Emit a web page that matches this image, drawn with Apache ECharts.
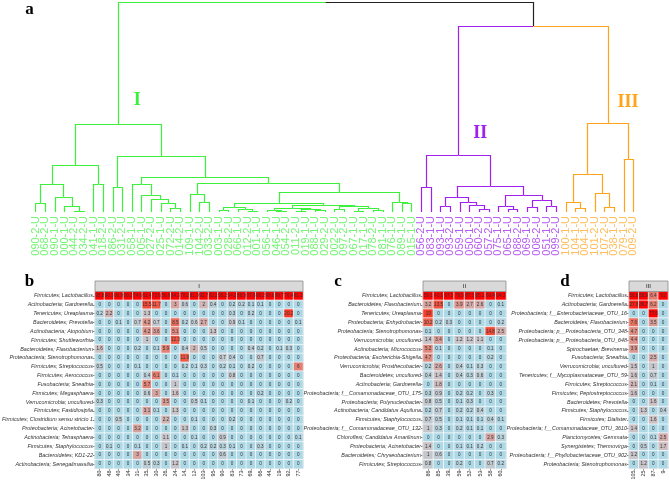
<!DOCTYPE html>
<html><head><meta charset="utf-8">
<script src="https://cdn.jsdelivr.net/npm/echarts/dist/echarts.min.js"></script>
<style>html,body{margin:0;padding:0;background:#fff}#c{width:669px;height:482px}</style>
</head><body><div id="c"></div>
<script>
// ---------------- dendrogram data ----------------
const leafNames = [
 "090-2-U","068-2-U","090-1-U","000-1-U","044-2-U","034-2-U","041-1-U","018-2-U",
 "086-2-U","031-2-U","058-1-U","005-1-U","027-2-U","025-1-U","072-2-U","014-2-U",
 "109-1-U","104-2-U","033-2-U","003-1-U","028-2-U","066-1-U","012-2-U","001-1-U",
 "056-1-U","046-1-U","054-2-U","011-2-U","019-1-U","088-1-U","029-2-U","002-2-U",
 "097-2-U","067-1-U","017-1-U","078-2-U","081-1-U","076-1-U","089-1-U","015-1-U",
 "056-2-U","083-1-U","093-1-U","093-2-U","059-1-U","050-1-U","060-2-U","057-2-U",
 "075-1-U","065-1-U","088-2-U","069-1-U","008-2-U","051-1-U","099-2-U",
 "100-1-U","104-1-U","004-1-U","101-2-U","107-2-U","038-1-U","079-1-U","009-2-U"
];
const clusterNames = ["I","II","III"];
const clusterSizes = [40, 15, 8];
const clusterColors = ["#3cf03c","#a020f0","#ffa31a"];
const labelColors = ["#74f574","#b75cf3","#ffbd5c"];
// merge tree: [height, left, right]; numbers are leaf indices
const treeI = [88,
  [47, [28, [9,0,1], [15,2,[6,3,[1,4,5]]]], [28,6,7]],
  [56, [25,8,9],
    [35, [28,10,[17,11,[13,12,[9,13,[4,14,15]]]]],
      [29, [18,16,[10,17,18]],
        [20, [9, [5,[2,19,20],[3,21,[1,22,23]]],
                 [7, [4,[2,24,[1,25,26]],[3,[1,27,28],[2,29,30]]],
                     [6,[3,31,32],[4,[1,33,34],[2,35,36]]]]],
             [10,37,[9,38,39]]]]]]];
const treeII = [57, [25,40,41],
  [26, [15,[6,42,43],[10,44,[7,45,[3,46,47]]]],
       [17,[6,48,[3,49,50]],[12,[5,51,52],[6,53,54]]]]];
const treeIII = [89, [38,[10,55,[4,56,57]],[19,58,[5,59,60]]], [53,61,62]];
const upperHeight = 186;
const rootHeight = 210;

// ---------------- heatmap data ----------------
const rowsB = ["Firmicutes; Lactobacillus","Actinobacteria; Gardnerella","Tenericutes; Ureaplasma","Bacteroidetes; Prevotella","Actinobacteria; Atopobium","Firmicutes; Shuttleworthia","Bacteroidetes; Flavobacterium","Proteobacteria; Stenotrophomonas","Firmicutes; Streptococcus","Firmicutes; Aerococcus","Fusobacteria; Sneathia","Firmicutes; Megasphaera","Verrucomicrobia; uncultured","Firmicutes; Fastidiosipila","Firmicutes; Clostridium sensu stricto 1","Proteobacteria; Acinetobacter","Actinobacteria; Tetrasphaera","Firmicutes; Staphylococcus","Bacteroidetes; KD1-22","Actinobacteria; Senegalimassilia"];
const colsB = ["80","48","40","34","31","35","30","26","24","14","12","103","95","90","83","73","69","66","44","19","92","77"];
const valsB = [
 [95.8,96.3,96.9,99.2,74.6,62.4,73.6,56.9,64.3,78.2,91.9,93.7,92.2,95.2,94.2,88.9,97.8,98.2,99.6,99.7,76.4,91.2],
 [0,0,0,0,0,15.5,11.7,0,3,0.6,0,2,0.4,0,0.2,0.2,0.1,0.1,0,0,0,0],
 [0.2,2.2,0,0,0,1.3,0,0,0,0,0,0,0,0,0.3,0,0.2,0,0,0,20.2,0],
 [0,0,0.1,0,0.7,4.2,0.7,0,8.5,0.2,0.6,2.7,0,0,0.9,0.1,0,0,0,0,0,0.1],
 [0,0,0,0,0,4.2,3.6,0,5.1,0,0,0,1.3,0,0,0,0,0,0,0,0,0],
 [0,0,0,0,0,1,0,0,12.3,0,0,0,0,0,0,0,0,0,0,0,0,0],
 [1.6,0,0,0,0.2,0,0.1,5.9,0,0.4,2,0.5,0,0,0,0,0.4,0.2,0,0.1,0.3,0],
 [0,0,0,0,0,0,0,0,0,11.9,0,0,0,0.7,0.4,0,0,0.7,0,0,0,0],
 [0.5,0,0,0,0.1,0,0,0,0,0.2,0.1,0.3,0,0.2,0.1,0,0.2,0,0,0,0,6],
 [0,0,0,0,0,0.4,6.1,0,0.1,0,0,0,0,0,0.8,0,0,0,0,0,0,0],
 [0,0,0,0,0,5.7,0,0,1,0,0,0,0,0,0,0,0,0,0,0,0,0],
 [0,0,0,0,0,0.6,3,0,1.6,0,0,0,0,0,0,0,0,0.2,0,0,0,0],
 [0.3,0,0,0,0,0,0,3.5,0,0,0.5,0.1,0,0,0,0,0.1,0,0,0,0.2,0],
 [0,0,0,0,0,3.1,0.1,0,1.3,0,0,0,0,0,0,0,0,0,0,0,0,0],
 [0,0,0.5,0,0,0,0,2.2,0,0,0.1,0,0,0,0.2,0,0,0,0,0,0,0],
 [0,0,0,0,3.2,0,0,0,0,1.3,0,0,0.3,0,0,0,0,0,0,0,0,0],
 [0,0,0,0,0,0,0,1.1,0,0,0.1,0,0,0.9,0,0,0,0,0,0,0,0.1],
 [0,0.1,0,0,0.1,0,0,1,0,0.1,0,0.2,0.2,0.3,0.1,0,0,0.3,0,0,0,0],
 [0,0,0,0,3,0,0,0,0,0,0,0,0,0.6,0,0,0,0,0,0,0,0],
 [0,0,0,0,0,0.5,0.3,0,1.2,0,0,0,0,0,0,0,0,0,0,0,0,0]
];
const rowsC = ["Firmicutes; Lactobacillus","Bacteroidetes; Flavobacterium","Tenericutes; Ureaplasma","Proteobacteria; Enhydrobacter","Proteobacteria; Stenotrophomonas","Verrucomicrobia; uncultured","Actinobacteria; Micrococcus","Proteobacteria; Escherichia-Shigella","Verrucomicrobia; Prosthecobacter","Bacteroidetes; uncultured","Actinobacteria; Gardnerella","Proteobacteria; f__Comamonadaceae_OTU_175","Proteobacteria; Polynucleobacter","Actinobacteria; Candidatus Aquiluna","Firmicutes; Staphylococcus","Proteobacteria; f__Comamonadaceae_OTU_132","Chloroflexi; Candidatus Amarilinum","Proteobacteria; Acinetobacter","Bacteroidetes; Chryseobacterium","Firmicutes; Streptococcus"];
const colsC = ["86","85","39","59","52","53","58","60"];
const valsC = [
 [59.1,40.1,97.5,79.5,87.3,85.1,69.4,94.3],
 [3.2,13.5,0,3.9,2.7,2.6,0,0.1],
 [19,0,0,0,0,0,0,0],
 [10.2,0.2,0.3,0,0,0,0,0.2],
 [0.1,0,0,0,0,0,14.8,2.5],
 [1.4,3.4,0,1.2,1.2,1.1,0,0],
 [5.2,0.1,0,0,0,0,0.1,0],
 [4.7,0,0,0,0,0,0.2,0],
 [0.2,2.6,0,0.4,0.1,0.3,0,0],
 [0.4,1.4,0,0.4,0.3,0.6,0,0],
 [0,1.8,0,0,0,0,0,0],
 [0.3,0.9,0,0.2,0.2,0,0.3,0],
 [0.8,0.5,0,0.1,0.3,0,0,0],
 [0.2,0.7,0,0.2,0.2,0.4,0,0],
 [0.7,0.5,0,0.1,0.1,0.1,0.4,0.1],
 [1,0.3,0,0.2,0.1,0.1,0,0],
 [0,0,0,0,0,0,2.9,0.3],
 [1.4,0,0,0.1,0.1,0.2,0,0],
 [1,0.6,0,0,0,0,0,0],
 [0.8,0,0,0.2,0,0,0.7,0.2]
];
const rowsD = ["Firmicutes; Lactobacillus","Actinobacteria; Gardnerella","Proteobacteria; f__Enterobacteriaceae_OTU_16","Bacteroidetes; Flavobacterium","Proteobacteria; p__Proteobacteria_OTU_348","Proteobacteria; p__Proteobacteria_OTU_648","Spirochaetae; Brevinema","Fusobacteria; Sneathia","Verrucomicrobia; uncultured","Tenericutes; f__Mycoplasmataceae_OTU_59","Firmicutes; Streptococcus","Firmicutes; Peptostreptococcus","Bacteroidetes; Prevotella","Firmicutes; Staphylococcus","Firmicutes; Dialister","Proteobacteria; f__Comamonadaceae_OTU_3610","Planctomycetes; Gemmata","Synergistetes; Thermovirga","Proteobacteria; f__Phyllobacteriaceae_OTU_902","Proteobacteria; Stenotrophomonas"];
const colsD = ["105","25","87","9"];
const valsD = [
 [56.8,58.9,6.4,92],
 [27.8,36.7,6.2,0],
 [0,0,77.6,0],
 [7.6,0,3.5,0],
 [4.7,0,0,0],
 [4.4,0,0,0],
 [3.9,0,0,0],
 [0,0,2.5,0],
 [1.5,0,1,0],
 [1.6,0,0.7,0],
 [2.1,0,0.1,0],
 [1.6,0,0,0],
 [0,0,1.6,0],
 [0,1.3,0,0.4],
 [0,0,1.6,0],
 [1.4,0,0,0],
 [0,0,0.1,2.5],
 [0,0.5,0,1.7],
 [1.2,0,0,0],
 [0,1.2,0,0]
];

// ---------------- build dendrogram segments ----------------
const leafCluster = [];
clusterSizes.forEach((n, ci) => { for (let i = 0; i < n; i++) leafCluster.push(ci); });
function layout(node) {
  if (typeof node === "number") return { x: node, h: 0, cl: leafCluster[node] };
  const L = layout(node[1]), R = layout(node[2]);
  return { h: node[0], L, R, x: (L.x + R.x) / 2, cl: (L.cl === R.cl ? L.cl : -1) };
}
const tree = layout([rootHeight, treeI, [upperHeight, treeII, treeIII]]);
const segs = [];
function walk(n) {
  if (!n.L) return;
  [n.L, n.R].forEach(c => {
    const col = c.cl >= 0 ? clusterColors[c.cl] : "#222";
    segs.push({ coords: [[n.x, n.h], [c.x, n.h]], lineStyle: { color: col } });
    segs.push({ coords: [[c.x, n.h], [c.x, c.h]], lineStyle: { color: col } });
    walk(c);
  });
}
walk(tree);
const clusterNodes = [tree.L, tree.R.L, tree.R.R];

// ---------------- layout constants ----------------
const G = {
  dendro: { left: 35.7, top: 2, width: 597.7, height: 210 },
  b: { left: 95, top: 291.5, width: 208, height: 177 },
  c: { left: 423, top: 291.5, width: 83, height: 177 },
  d: { left: 629, top: 291.5, width: 39, height: 177 }
};

function heatData(vals) {
  const out = [];
  vals.forEach((row, ri) => row.forEach((v, ci) => out.push([ci, ri, v, Math.log10(1 + v)])));
  return out;
}
const panels = [
  { g: G.b, rows: rowsB, cols: colsB, vals: valsB, name: clusterNames[0] },
  { g: G.c, rows: rowsC, cols: colsC, vals: valsC, name: clusterNames[1] },
  { g: G.d, rows: rowsD, cols: colsD, vals: valsD, name: clusterNames[2] }
];

const grids = [Object.assign({ outerBoundsMode: "none", containLabel: false }, G.dendro)];
const xAxes = [
  { type: "value", gridIndex: 0, min: 0, max: leafNames.length - 1, show: false },
  { type: "category", gridIndex: 0, data: leafNames, boundaryGap: false, position: "bottom",
    axisLine: { show: false }, axisTick: { show: false }, splitLine: { show: false },
    axisLabel: { interval: 0, rotate: 90, fontSize: 11, margin: 4, fontFamily: "Liberation Sans",
      color: (v) => labelColors[leafCluster[leafNames.indexOf(v)]] } }
];
const yAxes = [{ type: "value", gridIndex: 0, min: 0, max: rootHeight, show: false }];
const series = [{
  type: "lines", coordinateSystem: "cartesian2d", xAxisIndex: 0, yAxisIndex: 0,
  silent: true, lineStyle: { width: 1.2, opacity: 1 }, data: segs, z: 3
}];
const graphics = [];
panels.forEach((p, k) => {
  const gi = k + 1;
  grids.push(Object.assign({ outerBoundsMode: "none", containLabel: false, show: true,
    borderColor: "#8c8c8c", borderWidth: 0.8, backgroundColor: "#ADD8E6" }, p.g));
  xAxes.push({ type: "category", gridIndex: gi, data: p.cols, position: "bottom",
    axisLine: { show: false }, splitLine: { show: false },
    axisTick: { show: true, alignWithLabel: true, length: 2, lineStyle: { color: "#333", width: 0.6 } },
    axisLabel: { interval: 0, rotate: 90, fontSize: 5.4, margin: 2, color: "#333", fontFamily: "Liberation Sans" } });
  yAxes.push({ type: "category", gridIndex: gi, data: p.rows, inverse: true,
    axisLine: { show: false }, splitLine: { show: false },
    axisTick: { show: true, alignWithLabel: true, length: 2, lineStyle: { color: "#333", width: 0.6 } },
    axisLabel: { interval: 0, fontSize: 5.4, margin: 2, color: "#333", fontStyle: "italic", fontFamily: "Liberation Sans" } });
  series.push({ type: "heatmap", xAxisIndex: gi + 1, yAxisIndex: gi, data: heatData(p.vals),
    itemStyle: { borderColor: "#ffffff", borderWidth: 0.7 },
    label: { show: true, fontSize: 4.6, color: "#333", fontFamily: "Liberation Sans",
      formatter: (q) => String(q.value[2]) },
    emphasis: { disabled: true } });
  graphics.push({ type: "rect", shape: { x: p.g.left, y: 281, width: p.g.width, height: 10.5 },
    style: { fill: "#D9D9D9", stroke: "#8c8c8c", lineWidth: 0.8 }, z: 10 });
  graphics.push({ type: "text", x: p.g.left + p.g.width / 2, y: 286.3,
    style: { text: p.name, fontSize: 6, fill: "#1a1a1a", textAlign: "center", textVerticalAlign: "middle", fontFamily: "Liberation Sans" }, z: 11 });
});

const serif = "Liberation Serif";
[["a", 29.5, 10], ["b", 29.5, 281.5], ["c", 338, 282], ["d", 565, 281.5]].forEach(t => {
  graphics.push({ type: "text", x: t[1], y: t[2],
    style: { text: t[0], fontSize: 17, fontWeight: "bold", fontFamily: serif, fill: "#000", textAlign: "center", textVerticalAlign: "middle" } });
});

const chart = echarts.init(document.getElementById("c"), null, { renderer: "canvas" });
chart.setOption({
  animation: false,
  backgroundColor: "#fff",
  grid: grids, xAxis: xAxes, yAxis: yAxes,
  visualMap: { type: "continuous", show: false, dimension: 3, min: 0, max: 1.6, seriesIndex: [1, 2, 3],
    inRange: { color: ["#ADD8E6","#BFCBD3","#CAC2C6","#D6A5A2","#E1877B","#EA6A57","#F24C39","#F92E1E","#FF0000"] } },
  series: series,
  graphic: graphics
});
// cluster labels placed beside their cluster's vertical branch (converted via the dendrogram axes)
const lblOffsets = [[19, 0.19], [22, 0.17], [20, 0.21]];
const extra = clusterNodes.map((n, i) => {
  const parentH = i === 0 ? rootHeight : upperHeight;
  const pt = chart.convertToPixel({ gridIndex: 0 }, [n.x, n.h + (parentH - n.h) * lblOffsets[i][1]]);
  return { type: "text", x: pt[0] + lblOffsets[i][0], y: pt[1],
    style: { text: clusterNames[i], fontSize: 18, fontWeight: "bold", fontFamily: serif,
      fill: clusterColors[i], textAlign: "center", textVerticalAlign: "middle" } };
});
chart.setOption({ graphic: graphics.concat(extra) });
</script>
</body></html>
